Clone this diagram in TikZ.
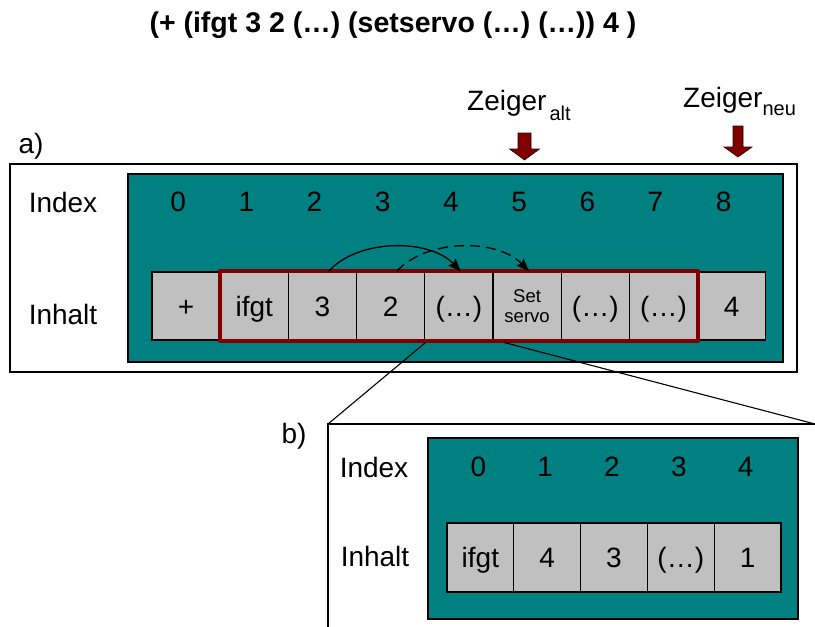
\documentclass[tikz,border=0pt]{standalone}
\usepackage{fontspec}
\setmainfont{Liberation Sans}
\usetikzlibrary{arrows.meta}
\definecolor{tealbg}{HTML}{008080}
\definecolor{cellgray}{HTML}{C0C0C0}
\definecolor{darkred}{HTML}{800000}
\newcommand{\bigtxt}{\fontsize{28}{30}\selectfont}
\newcommand{\midtxt}{\fontsize{28}{30}\selectfont}
\newcommand{\subtxt}{\fontsize{20}{22}\selectfont}
\newcommand{\smalltxt}{\fontsize{18.5}{22}\selectfont}
\begin{document}
\begin{tikzpicture}[x=1pt,y=-1pt,
  frame/.style={draw=black,line width=1.3pt},
  panel/.style={draw=black,fill=tealbg,line width=1.3pt},
  cell/.style={draw=black,fill=cellgray,line width=1.2pt,minimum width=68.2pt,
    minimum height=68pt,inner sep=0pt,font=\bigtxt,text height=20pt,text depth=0pt},
  bcell/.style={cell,minimum width=66.8pt,minimum height=69pt},
  lbl/.style={inner sep=0pt,font=\bigtxt},
  pointer/.style={fill=darkred,draw=black!70!darkred,line width=0.6pt},
  hop/.style={line width=1.3pt,-{Stealth[length=13pt,width=10pt,inset=2pt]}},
  zoomline/.style={line width=1.1pt}]
\useasboundingbox (0,0) rectangle (815,627);

% title expression
\node[inner sep=0pt,font=\bfseries\fontsize{28.5}{30}\selectfont] (title) at (393,25)
  {(+ (ifgt 3 2 (…) (setservo (…) (…)) 4 )};

% ---------- part a) ----------
\node[lbl] (alabel) at (31,146) {a)};
\draw[frame] (10,164) rectangle (797,372);
\draw[panel] (128,174) rectangle (783,362);
\node[lbl] (aindex) at (63,202) {Index};
\node[lbl] (ainhalt) at (63,314) {Inhalt};

\foreach \i/\t in {0/+,1/ifgt,2/3,3/2,4/(…),6/(…),7/(…),8/4}{
  \node[cell] (a\i) at ({152+68.2*(\i+0.5)},306) {\t};
}
\node[cell,font=\smalltxt,align=center,text height=,text depth=] (a5) at ({152+68.2*5.5},306) {Set\\[-2pt]servo};
\foreach \i in {0,...,8}{
  \node[lbl] (ai\i) at ([xshift=-8pt]a\i.center |- 0,202) {\i};
}

% highlighted sub-expression
\draw[darkred,line width=4pt,line join=round] (a1.north west) rectangle (a7.south east);

% pointer moves
\draw[hop] ([xshift=6pt]a2.north) .. controls +(30,-33) and +(-32,-33) .. ([xshift=2pt]a4.north);
\draw[hop,dash pattern=on 10pt off 6pt] ([xshift=6pt]a3.north) .. controls +(30,-33) and +(-32,-33) .. ([xshift=2pt]a5.north);

% pointers
\node[inner sep=0pt,anchor=base west] (zalt) at (467,110)
  {\midtxt Zeiger\hspace{3pt}\raisebox{-10pt}{\subtxt alt}};
\node[inner sep=0pt,anchor=base west] (zneu) at (683,107)
  {\midtxt Zeiger\raisebox{-8pt}{\subtxt neu}};
\coordinate (palt) at (524.5,133);
\coordinate (pneu) at (738,126);
\draw[pointer] (palt) ++(-6.5,0) -- ++(0,16) -- ++(-8.5,0) -- ++(15,11)
  -- ++(15,-11) -- ++(-8.5,0) -- ++(0,-16) -- cycle;
\draw[pointer] (pneu) ++(-5,0) -- ++(0,21) -- ++(-9,0) -- ++(14,10)
  -- ++(14,-10) -- ++(-9,0) -- ++(0,-21) -- cycle;

% ---------- part b) ----------
\node[lbl] (blabel) at (294,436) {b)};
\coordinate (btl) at (328,424);
\draw[frame] (815,424) -- (btl) -- (328,627);
\draw[zoomline] ([yshift=-2pt]a3.south east) -- (btl);
\draw[zoomline] ([xshift=11pt,yshift=-2pt]a4.south east) -- (815,424);

\draw[panel] (428,438) rectangle (798,619);
\node[lbl] (bindex) at (374,467) {Index};
\node[lbl] (binhalt) at (375,556) {Inhalt};
\foreach \i/\t in {0/ifgt,1/4,2/3,3/(…),4/1}{
  \node[bcell] (b\i) at ({447+66.8*(\i+0.5)},557.5) {\t};
  \node[lbl] (bi\i) at ([xshift=-2pt]b\i.center |- 0,467) {\i};
}
\end{tikzpicture}
\end{document}
